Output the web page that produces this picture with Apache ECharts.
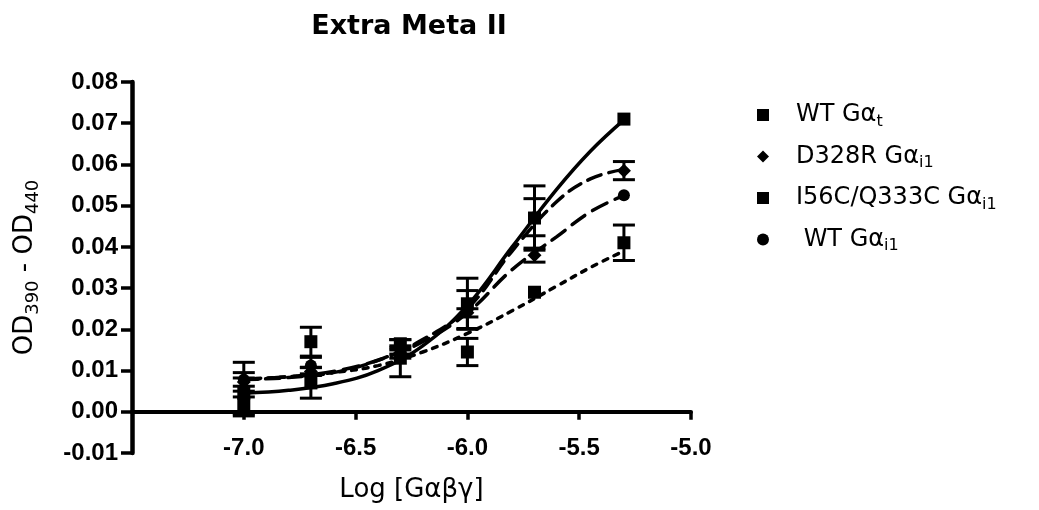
<!DOCTYPE html>
<html>

<head>
	<meta charset="UTF-8">
	<title>Extra Meta II</title>
	<style>
		html, body { margin: 0; padding: 0; background: #fff; }
		#chart { width: 1039px; height: 510px; }
	</style>
	<script src="https://cdn.jsdelivr.net/npm/echarts@6/dist/echarts.min.js"></script>
</head>

<body>
	<div id="chart"></div>
	<script>
		// log concentrations where the points were measured
		var doseX = [-7.0, -6.7, -6.3, -6.0, -5.7, -5.3];

		// mean values
		var wtGt = [0.0045, 0.0070, 0.0130, 0.0262, 0.0470, 0.0710];
		var d328r = [0.0072, 0.0098, 0.0150, 0.0240, 0.0380, 0.0585];
		var i56c = [0.0020, 0.0170, 0.0165, 0.0145, 0.0290, 0.0410];
		var wtGi1 = [0.0078, 0.0112, 0.0140, 0.0248, 0.0472, 0.0525];

		// error (+/-)
		var wtGtErr = [0.0050, 0.0037, 0.0045, 0.0062, 0.0078, 0];
		var d328rErr = [0.0010, 0.0010, 0.0010, 0.0010, 0.0017, 0.0022];
		var i56cErr = [0.0030, 0.0035, 0.0010, 0.0033, 0, 0.0043];
		var wtGi1Err = [0.0042, 0.0020, 0.0010, 0.0046, 0.0045, 0];

		// fitted curves
		var curveX = [-7.0, -6.8, -6.6, -6.4, -6.2, -6.0, -5.8, -5.6, -5.45, -5.3];
		var wtGtFit = [0.0045, 0.0052, 0.0068, 0.0100, 0.0160, 0.0258, 0.0400, 0.0540, 0.0632, 0.0708];
		var d328rFit = [0.0078, 0.0083, 0.0095, 0.0125, 0.0175, 0.0250, 0.0390, 0.0510, 0.0565, 0.0588];
		var i56cFit = [0.0080, 0.0085, 0.0095, 0.0112, 0.0145, 0.0190, 0.0245, 0.0305, 0.0350, 0.0390];
		var wtGi1Fit = [0.0078, 0.0085, 0.0098, 0.0125, 0.0170, 0.0240, 0.0345, 0.0425, 0.0485, 0.0525];

		var xTicks = [-7.0, -6.5, -6.0, -5.5, -5.0];

		var ARIAL = 'Liberation Sans, Arial, sans-serif';
		var WIDE = 'DejaVu Sans, Verdana, sans-serif';

		function pairs(xs, ys) {
			return xs.map(function (x, i) { return [x, ys[i]]; });
		}
		function errData(ys, es) {
			var out = [];
			doseX.forEach(function (x, i) {
				if (es[i] > 0) out.push([x, ys[i] - es[i], ys[i] + es[i]]);
			});
			return out;
		}
		function errorBars(name, ys, es) {
			return {
				name: name + ' err',
				type: 'custom',
				data: errData(ys, es),
				z: 3,
				renderItem: function (params, api) {
					var lo = api.coord([api.value(0), api.value(1)]);
					var hi = api.coord([api.value(0), api.value(2)]);
					var hw = 11;
					var st = { stroke: '#000', lineWidth: 3 };
					return {
						type: 'group',
						children: [
							{ type: 'line', shape: { x1: lo[0], y1: lo[1], x2: hi[0], y2: hi[1] }, style: st },
							{ type: 'line', shape: { x1: lo[0] - hw, y1: lo[1], x2: lo[0] + hw, y2: lo[1] }, style: st },
							{ type: 'line', shape: { x1: hi[0] - hw, y1: hi[1], x2: hi[0] + hw, y2: hi[1] }, style: st }
						]
					};
				}
			};
		}
		function fitLine(name, ys, dash) {
			return {
				name: name + ' fit',
				type: 'line',
				data: pairs(curveX, ys),
				smooth: 0.4,
				showSymbol: false,
				silent: true,
				lineStyle: { color: '#000', width: 3.5, type: dash, cap: 'round' },
				z: 2
			};
		}
		function points(name, ys, sym, size) {
			return {
				name: name,
				type: 'scatter',
				data: pairs(doseX, ys),
				symbol: sym,
				symbolSize: size,
				itemStyle: { color: '#000', opacity: 1 },
				z: 4
			};
		}

		var chart = echarts.init(document.getElementById('chart'));
		chart.setOption({
			animation: false,
			textStyle: { fontFamily: ARIAL, color: '#000' },
			title: {
				text: 'Extra Meta II',
				left: 404,
				textAlign: 'center',
				top: 8,
				textStyle: { fontSize: 27, fontWeight: 'bold', color: '#000', fontFamily: WIDE }
			},
			grid: { left: 132, right: 348, top: 82, bottom: 57, outerBoundsMode: 'none' },
			legend: {
				orient: 'vertical',
				left: 752,
				top: 98,
				itemWidth: 12,
				itemHeight: 12,
				itemGap: 15,
				data: [
					{ name: 'WT Gαt', icon: 'rect' },
					{ name: 'D328R Gαi1', icon: 'diamond' },
					{ name: 'I56C/Q333C Gαi1', icon: 'rect' },
					{ name: ' WT Gαi1', icon: 'circle' }
				],
				formatter: function (n) {
					var m = n.match(/^(.*Gα)(.+)$/);
					return '{m|' + m[1] + '}{s|' + m[2] + '}';
				},
				textStyle: {
					padding: [0, 0, 0, 22],
					rich: {
						m: { fontSize: 24, color: '#000', fontFamily: WIDE },
						s: { fontSize: 16, color: '#000', verticalAlign: 'bottom', padding: [13, 0, 0, 0], fontFamily: WIDE }
					}
				}
			},
			xAxis: {
				type: 'value',
				min: -7.5,
				max: -5.0,
				interval: 0.5,
				name: 'Log [Gαβγ]',
				nameLocation: 'middle',
				nameGap: 24,
				nameMoveOverlap: false,
				nameTextStyle: { fontSize: 26, color: '#000', fontFamily: WIDE },
				axisLine: { onZero: true, lineStyle: { color: '#000', width: 4 } },
				axisTick: { show: true, length: 8, lineStyle: { width: 3.5, color: '#000' }, customValues: xTicks },
				axisLabel: {
					customValues: xTicks,
					margin: -17,
					fontSize: 24,
					fontWeight: 'bold',
					color: '#000',
					formatter: function (v) { return v.toFixed(1); }
				},
				splitLine: { show: false }
			},
			yAxis: {
				type: 'value',
				min: -0.01,
				max: 0.08,
				interval: 0.01,
				name: '{m|OD}{s|390}{m| - OD}{s|440}',
				nameLocation: 'middle',
				nameGap: 90,
				nameRotate: 90,
				nameTextStyle: {
					rich: {
						m: { fontSize: 26, color: '#000', fontFamily: WIDE },
						s: { fontSize: 18, color: '#000', padding: [16, 0, 0, 0], fontFamily: WIDE }
					}
				},
				axisLine: { show: true, lineStyle: { color: '#000', width: 4.5 } },
				axisTick: { show: true, length: 11, lineStyle: { width: 3.5, color: '#000' } },
				axisLabel: {
					fontSize: 24,
					fontWeight: 'bold',
					color: '#000',
					margin: 14,
					formatter: function (v) { return v.toFixed(2); }
				},
				splitLine: { show: false }
			},
			series: [
				fitLine('WT Gαt', wtGtFit, 'solid'),
				fitLine('D328R Gαi1', d328rFit, [14, 8]),
				fitLine('I56C/Q333C Gαi1', i56cFit, [5, 7]),
				fitLine(' WT Gαi1', wtGi1Fit, [16, 9]),
				errorBars('WT Gαt', wtGt, wtGtErr),
				errorBars('D328R Gαi1', d328r, d328rErr),
				errorBars('I56C/Q333C Gαi1', i56c, i56cErr),
				errorBars(' WT Gαi1', wtGi1, wtGi1Err),
				points('WT Gαt', wtGt, 'rect', 13),
				points('D328R Gαi1', d328r, 'diamond', 14),
				points('I56C/Q333C Gαi1', i56c, 'rect', 13),
				points(' WT Gαi1', wtGi1, 'circle', 12)
			]
		});
	</script>
</body>

</html>
